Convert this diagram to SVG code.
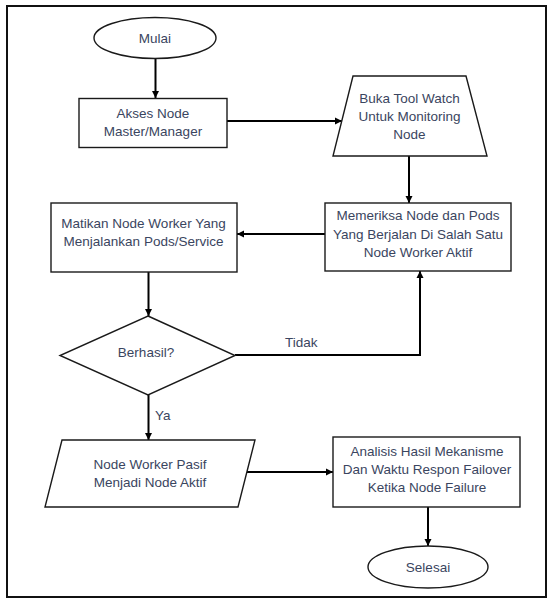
<svg xmlns="http://www.w3.org/2000/svg" width="552" height="599" viewBox="0 0 552 599">
<defs>
<style>
.shape{fill:#fff;stroke:#1a1a1a;stroke-width:1.4}
.t{font-family:"Liberation Sans",Arial,sans-serif;font-size:13.5px;fill:#3a4560;text-anchor:middle}
.lbl{font-family:"Liberation Sans",Arial,sans-serif;font-size:13.5px;fill:#3a4560}
.conn{fill:none;stroke:#000;stroke-width:2;marker-end:url(#arr)}
</style>
<marker id="arr" viewBox="0 0 10 10" refX="10" refY="5" markerWidth="3.6" markerHeight="3.6" orient="auto" markerUnits="strokeWidth">
<path d="M0,0 L10,5 L0,10 z" fill="#000"/>
</marker>
</defs>
<rect width="552" height="599" fill="#fff"/>
<rect x="7" y="6" width="539" height="591" fill="none" stroke="#111" stroke-width="2"/>
<g id="connectors">
<path class="conn" d="M155.5,59 L155.5,98"/>
<path class="conn" d="M227,121 L342,121"/>
<path class="conn" d="M409,156 L409,203"/>
<path class="conn" d="M325,234 L237,234"/>
<path class="conn" d="M148.5,272 L148.5,316"/>
<path class="conn" d="M235,355 L420,355 L420,271"/>
<path class="conn" d="M148.5,395 L148.5,440"/>
<path class="conn" d="M247,472 L333,472"/>
<path class="conn" d="M428,507 L428,546"/>
<text class="lbl" x="285" y="347">Tidak</text>
<text class="lbl" x="155" y="420">Ya</text>
</g>
<g id="mulai">
<ellipse class="shape" cx="155" cy="38" rx="61" ry="20.5"/>
<text class="t" x="155" y="42.5">Mulai</text>
</g>
<g id="akses">
<rect class="shape" x="79" y="98.5" width="148" height="49"/>
<text class="t" x="153" y="118">Akses Node</text>
<text class="t" x="153" y="136">Master/Manager</text>
</g>
<g id="buka">
<polygon class="shape" points="353,76 466,76 487,156 333,156"/>
<text class="t" x="409.5" y="103">Buka Tool Watch</text>
<text class="t" x="409.5" y="121">Untuk Monitoring</text>
<text class="t" x="409.5" y="139">Node</text>
</g>
<g id="memeriksa">
<rect class="shape" x="325" y="203" width="186" height="68"/>
<text class="t" x="418" y="220">Memeriksa Node dan Pods</text>
<text class="t" x="418" y="238.5">Yang Berjalan Di Salah Satu</text>
<text class="t" x="418" y="257">Node Worker Aktif</text>
</g>
<g id="matikan">
<rect class="shape" x="51" y="203" width="186" height="69"/>
<text class="t" x="143.5" y="227.5">Matikan Node Worker Yang</text>
<text class="t" x="143.5" y="245.5">Menjalankan Pods/Service</text>
</g>
<g id="berhasil">
<polygon class="shape" points="148,316 235,355.5 148,395 60,355.5"/>
<text class="t" x="146" y="357">Berhasil?</text>
</g>
<g id="pasif">
<polygon class="shape" points="62,440 255,440 238,507 45,507"/>
<text class="t" x="150" y="468.5">Node Worker Pasif</text>
<text class="t" x="150" y="487">Menjadi Node Aktif</text>
</g>
<g id="analisis">
<rect class="shape" x="333" y="437" width="187" height="70"/>
<text class="t" x="427" y="455.5">Analisis Hasil Mekanisme</text>
<text class="t" x="427" y="474">Dan Waktu Respon Failover</text>
<text class="t" x="427" y="492">Ketika Node Failure</text>
</g>
<g id="selesai">
<ellipse class="shape" cx="428" cy="567" rx="60" ry="21"/>
<text class="t" x="428" y="571.5">Selesai</text>
</g>
</svg>
